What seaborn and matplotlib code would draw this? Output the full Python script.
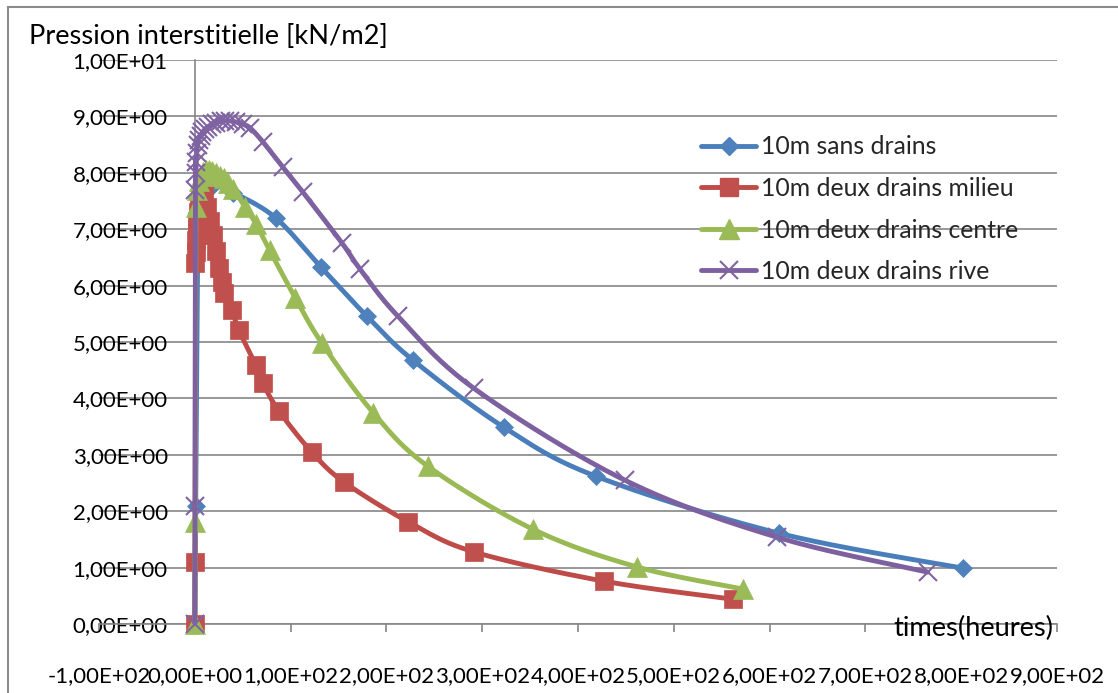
import numpy as np
import pandas as pd
import matplotlib
matplotlib.use("Agg")
import matplotlib.pyplot as plt
from matplotlib.lines import Line2D
from matplotlib.patches import Rectangle
from matplotlib.ticker import FuncFormatter
import seaborn as sns

# ---------------- data ----------------
labels = ["10m sans drains", "10m deux drains milieu",
          "10m deux drains centre", "10m deux drains rive"]

x_sans = [0, 1, 4, 10, 19, 40, 84.5, 131.5, 179.5, 227.6, 322.5, 418.6, 609.6, 801.7]
y_sans = [0, 2.1, 7.55, 7.75, 7.78, 7.65, 7.2, 6.33, 5.46, 4.68, 3.49, 2.62, 1.61, 0.99]

x_milieu = [0, 0.3, 0.6, 1, 1.5, 2, 2.5, 3, 4, 5.5, 8, 10, 13, 16, 19, 22, 25, 28, 31,
            38.6, 46, 63.7, 71, 87.7, 122, 155.5, 223, 291, 427, 561.6]
y_milieu = [0, 1.1, 6.4, 6.6, 6.8, 7.0, 7.15, 7.3, 7.45, 7.6, 7.7, 7.6, 7.4, 7.15, 6.9,
            6.62, 6.32, 6.07, 5.86, 5.57, 5.21, 4.59, 4.27, 3.78, 3.05, 2.52, 1.81, 1.28, 0.76, 0.44]

x_centre = [0, 0.5, 1, 2, 4, 6, 9, 12, 15, 18, 22, 26, 30, 35, 40, 52, 63.7, 78, 105,
            132.6, 186, 243, 353, 462, 572]
y_centre = [0, 1.8, 7.4, 7.7, 7.85, 7.95, 8.02, 8.05, 8.05, 8.03, 8.0, 7.95, 7.9, 7.82,
            7.72, 7.4, 7.1, 6.63, 5.78, 4.98, 3.75, 2.8, 1.68, 1.01, 0.62]

x_rive = [0, 0.3, 0.6, 1, 1.5, 2, 3, 4, 6, 8, 11, 14, 18, 22, 27, 32, 37, 43, 50, 57.4,
          71, 91.9, 112.7, 153.4, 172.2, 211.9, 291.2, 448.9, 607.5, 765.1]
y_rive = [0, 2.1, 7.7, 8.0, 8.2, 8.35, 8.5, 8.58, 8.66, 8.72, 8.78, 8.82, 8.86, 8.89,
          8.91, 8.92, 8.92, 8.9, 8.86, 8.8, 8.55, 8.1, 7.66, 6.76, 6.3, 5.46, 4.18,
          2.55, 1.54, 0.92]

x_ticks = list(range(-100, 901, 100))
y_ticks = list(range(0, 11))

# ---------------- style ----------------
sns.set_theme(style="white")
plt.rcParams["font.family"] = ["Lato", "DejaVu Sans"]
FS_TICK = 16.0
FS_TITLE = 19.6
FS_LEG = 17.8
GRID = "#868686"

line_cols = ["#4A7EBB", "#BE4B48", "#98B954", "#7D60A0"]
mark_cols = ["#4F81BD", "#C0504D", "#9BBB59", "#8064A2"]
markers = ["D", "s", "^", "x"]
msizes = [9.5, 13, 14, 13]

W, H = 1118, 693
fig = plt.figure(figsize=(W / 100, H / 100), dpi=100)
ax = fig.add_axes([99 / W, (H - 624) / H, 958 / W, 564 / H])

# outer chart border
fig.patches.append(Rectangle((8 / W, -0.2), 1.5, 1.2 - 7 / H, fill=False,
                             edgecolor="#8C8C8C", lw=1.5, transform=fig.transFigure))

# scale factors (px per data unit) used for a screen-space smooth curve
SX, SY = 0.958, 56.4


def smooth(xs, ys, n=24):
    P = np.column_stack([np.asarray(xs, float) * SX, np.asarray(ys, float) * SY])
    out = [P[0]]
    m = len(P)
    for i in range(m - 1):
        p0 = P[i - 1] if i > 0 else P[i]
        p1, p2 = P[i], P[i + 1]
        p3 = P[i + 2] if i + 2 < m else P[i + 1]
        c1 = p1 + (p2 - p0) / 6.0
        c2 = p2 - (p3 - p1) / 6.0
        t = np.linspace(0, 1, n)[1:, None]
        seg = ((1 - t) ** 3) * p1 + 3 * ((1 - t) ** 2) * t * c1 + 3 * (1 - t) * t ** 2 * c2 + t ** 3 * p2
        out.extend(seg)
    out = np.array(out)
    return out[:, 0] / SX, out[:, 1] / SY


series = [(x_sans, y_sans), (x_milieu, y_milieu), (x_centre, y_centre), (x_rive, y_rive)]
for k, (xs, ys) in enumerate(series):
    sx, sy = smooth(xs, ys)
    df = pd.DataFrame({"t": sx, "p": sy})
    sns.lineplot(data=df, x="t", y="p", sort=False, estimator=None, ax=ax,
                 color=line_cols[k], lw=3.5, zorder=3 + k, solid_capstyle="round")
    if markers[k] == "x":
        ax.plot(xs, ys, ls="none", marker="x", ms=msizes[k], mew=1.5,
                color=mark_cols[k], zorder=3.5 + k, clip_on=False)
    else:
        ax.plot(xs, ys, ls="none", marker=markers[k], ms=msizes[k], mfc=mark_cols[k],
                mec=mark_cols[k], mew=0.5, zorder=3.5 + k, clip_on=False)

ax.set_xlim(-100, 900)
ax.set_ylim(0, 10)
ax.set_xticks(x_ticks)
ax.set_yticks(y_ticks)
fmt = FuncFormatter(lambda v, p: f"{v:.2E}".replace(".", ","))
ax.xaxis.set_major_formatter(fmt)
ax.yaxis.set_major_formatter(fmt)
ax.set_xlabel("")
ax.set_ylabel("")

ax.yaxis.grid(True, color=GRID, lw=1.2)
ax.xaxis.grid(False)
ax.set_axisbelow(True)
for s in ["top", "right"]:
    ax.spines[s].set_visible(False)
ax.spines["left"].set_position(("data", 0))
ax.spines["left"].set_color(GRID)
ax.spines["left"].set_linewidth(1.2)
ax.spines["bottom"].set_color(GRID)
ax.spines["bottom"].set_linewidth(1.2)
ax.spines["left"].set_zorder(2)

ax.tick_params(axis="x", direction="out", length=6, width=1.2, color=GRID,
               pad=24.5, labelsize=FS_TICK, labelcolor="black", bottom=True)
ax.tick_params(axis="y", length=0, pad=19.5, labelsize=FS_TICK, labelcolor="black", left=True)

# axis titles
fig.text(29 / W, 1 - 37 / H, "Pression interstitielle [kN/m2]", ha="left", va="center",
         fontsize=FS_TITLE, color="black")
fig.text(1053 / W, 1 - 628 / H, "times(heures)", ha="right", va="center",
         fontsize=FS_TITLE, color="black", zorder=10)

handles = []
for k in range(4):
    if markers[k] == "x":
        h = Line2D([], [], color=line_cols[k], lw=3.5, marker="x", ms=msizes[k], mew=1.5,
                   mec=mark_cols[k])
    else:
        h = Line2D([], [], color=line_cols[k], lw=3.5, marker=markers[k], ms=msizes[k],
                   mfc=mark_cols[k], mec=mark_cols[k])
    handles.append(h)
ax.legend(handles, labels, loc="upper left", bbox_to_anchor=(701 / W, 1 - 135.5 / H),
          bbox_transform=fig.transFigure, frameon=False, fontsize=FS_LEG,
          handlelength=2.23, handletextpad=0.2, labelspacing=0.75, borderpad=0,
          borderaxespad=0)

fig.savefig("out.png", dpi=100)
